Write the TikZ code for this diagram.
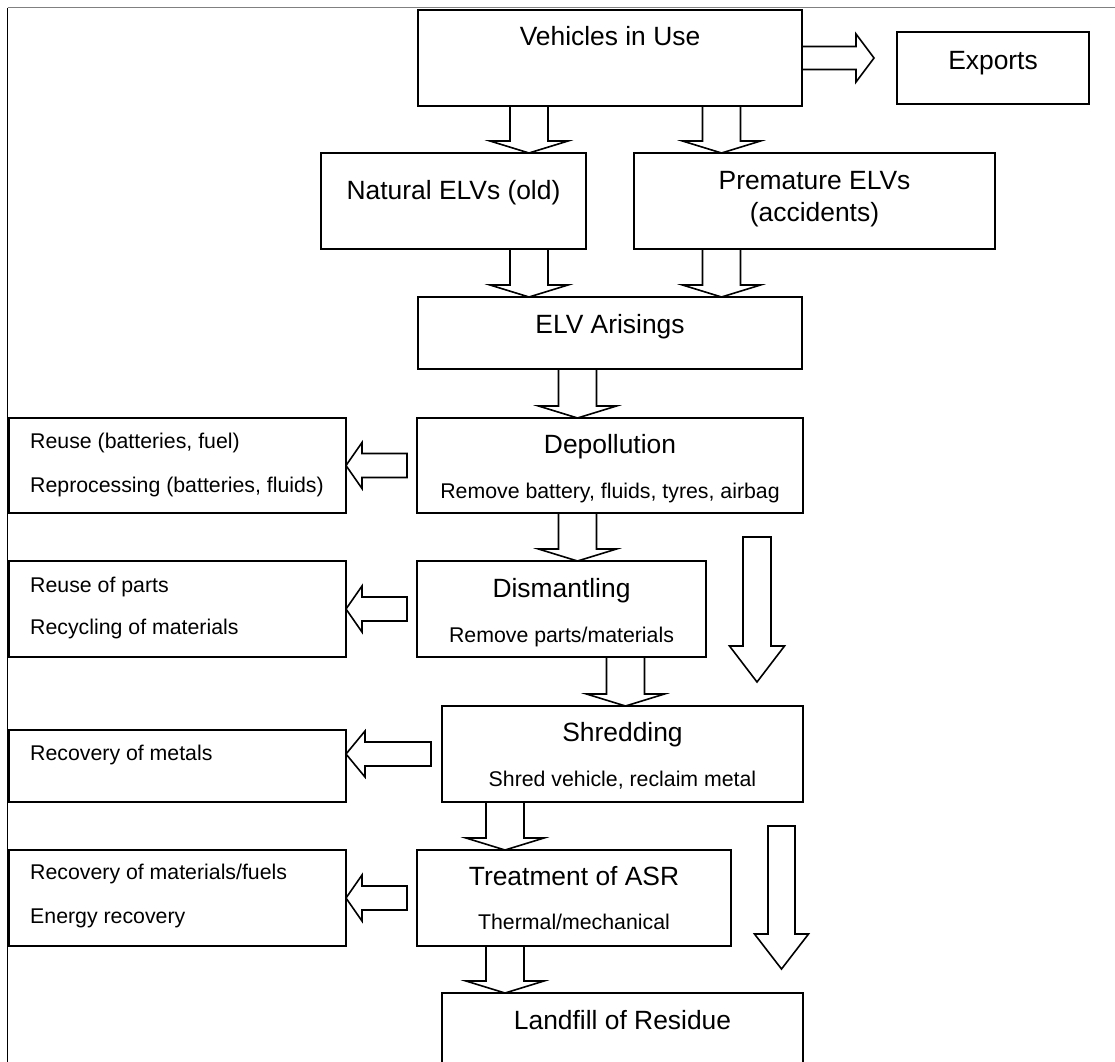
\documentclass[tikz,border=0pt]{standalone}
\usepackage{fontspec}
\setmainfont{Liberation Sans}
\usetikzlibrary{calc}

% downward block arrow: #1 x-position coordinate, #2 source node, #3 target node
\newcommand\dnblk[3]{%
  \draw[blk] ($(#2.south -| #1)+(-19,0)$) -- ($(#3.north -| #1)+(-19,-12)$)
    -- ($(#3.north -| #1)+(-39,-12)$) -- (#3.north -| #1)
    -- ($(#3.north -| #1)+(39,-12)$) -- ($(#3.north -| #1)+(19,-12)$)
    -- ($(#2.south -| #1)+(19,0)$);}

% leftward block arrow: #1 source, #2 target, #3 gap before source, #4 head length
\newcommand\lfblk[4]{%
  \draw[blk] ($(#1.west)+(-#3,-12)$) -- ($(#1.west -| #2.east)+(#4,-12)$)
    -- ($(#1.west -| #2.east)+(#4,-23)$) -- (#1.west -| #2.east)
    -- ($(#1.west -| #2.east)+(#4,23)$) -- ($(#1.west -| #2.east)+(#4,12)$)
    -- ($(#1.west)+(-#3,12)$) -- cycle;}

\begin{document}
\begin{tikzpicture}[x=1pt,y=-1pt,
  box/.style={draw, line width=1.6pt, inner sep=0pt, outer sep=0pt},
  blk/.style={draw, line width=1.6pt, line join=miter},
  ttl/.style={anchor=base, inner sep=0pt, font=\fontsize{26.4}{31}\selectfont},
  sub/.style={anchor=base, inner sep=0pt, font=\fontsize{21.3}{26}\selectfont},
  side/.style={anchor=base west, inner sep=0pt, font=\fontsize{21.3}{26}\selectfont},
]
\useasboundingbox (0,0) rectangle (1115,1061);
\clip (0,0) rectangle (1115,1061);
\fill[white] (0,0) rectangle (1115,1061);

% page frame
\draw[line width=1.5pt, gray] (7.5,7.5) -- (1120,7.5);
\draw[line width=1.5pt, black] (7.5,7.5) -- (7.5,1070);

% main chain boxes
\node[box, minimum width=384pt, minimum height=96pt] (veh) at (610,58) {};
\node[box, minimum width=192pt, minimum height=72pt] (exp) at (993,68) {};
\node[box, minimum width=265pt, minimum height=96pt] (nat) at (453.5,201) {};
\node[box, minimum width=361pt, minimum height=96pt] (pre) at (814.5,201) {};
\node[box, minimum width=384pt, minimum height=72pt] (ari) at (610,333) {};
\node[box, minimum width=386pt, minimum height=95pt] (dep) at (610,465.5) {};
\node[box, minimum width=289pt, minimum height=96pt] (dis) at (561.5,609) {};
\node[box, minimum width=361pt, minimum height=96pt] (shr) at (622.5,754) {};
\node[box, minimum width=314pt, minimum height=96pt] (trt) at (574,898) {};
\node[box, minimum width=361pt, minimum height=96pt] (lnd) at (622.5,1041) {};

% outcome boxes on the left
\node[box, minimum width=337pt, minimum height=95pt] (reu) at (177.5,465.5) {};
\node[box, minimum width=337pt, minimum height=96pt] (rpa) at (177.5,609) {};
\node[box, minimum width=337pt, minimum height=72pt] (rme) at (177.5,766) {};
\node[box, minimum width=337pt, minimum height=96pt] (rmf) at (177.5,898) {};

% labels
\node[ttl] (tveh) at (610,45) {Vehicles in Use};
\node[ttl] (texp) at (993,69) {Exports};
\node[ttl] (tnat) at (453.5,199) {Natural ELVs (old)};
\node[ttl] (tpre) at (814.5,189) {Premature ELVs};
\node[ttl] (tpre2) at (814.5,221) {(accidents)};
\node[ttl] (tari) at (610,333) {ELV Arisings};
\node[ttl] (tdep) at (610,453) {Depollution};
\node[sub] (sdep) at (610,498) {Remove battery, fluids, tyres, airbag};
\node[ttl] (tdis) at (561.5,597) {Dismantling};
\node[sub] (sdis) at (561.5,642) {Remove parts/materials};
\node[ttl] (tshr) at (622.5,741) {Shredding};
\node[sub] (sshr) at (622.5,786) {Shred vehicle, reclaim metal};
\node[ttl] (ttrt) at (574,885) {Treatment of ASR};
\node[sub] (strt) at (574,929) {Thermal/mechanical};
\node[ttl] (tlnd) at (622.5,1029) {Landfill of Residue};

\node[side] (s1) at (30,448) {Reuse (batteries, fuel)};
\node[side] (s2) at (30,492) {Reprocessing (batteries, fluids)};
\node[side] (s3) at (30,592) {Reuse of parts};
\node[side] (s4) at (30,634) {Recycling of materials};
\node[side] (s5) at (30,760) {Recovery of metals};
\node[side] (s6) at (30,879) {Recovery of materials/fuels};
\node[side] (s7) at (30,923) {Energy recovery};

% x positions of the vertical flow arrows
\coordinate (xa) at (529,0);
\coordinate (xb) at (721.5,0);
\coordinate (xc) at (577.5,0);
\coordinate (xd) at (625.5,0);
\coordinate (xe) at (505,0);

\dnblk{xa}{veh}{nat}
\dnblk{xb}{veh}{pre}
\dnblk{xa}{nat}{ari}
\dnblk{xb}{pre}{ari}
\dnblk{xc}{ari}{dep}
\dnblk{xc}{dep}{dis}
\dnblk{xd}{dis}{shr}
\dnblk{xe}{shr}{trt}
\dnblk{xe}{trt}{lnd}

% side outputs
\lfblk{dep}{reu}{10}{16}
\lfblk{dis}{rpa}{10}{16}
\lfblk{shr}{rme}{11}{19}
\lfblk{trt}{rmf}{10}{16}

% exports arrow
\draw[blk] ($(veh.east)+(0,-11.5)$) -- ($(veh.east -| exp.west)+(-41,-11.5)$)
  -- ($(veh.east -| exp.west)+(-41,-24)$) -- ($(veh.east -| exp.west)+(-23,0)$)
  -- ($(veh.east -| exp.west)+(-41,24)$) -- ($(veh.east -| exp.west)+(-41,11.5)$)
  -- ($(veh.east)+(0,11.5)$);

% bypass arrows on the right
\coordinate (b1top) at (757,537);
\coordinate (b1tip) at (757,682);
\draw[blk] ($(b1top)+(-14,0)$) -- ($(b1tip)+(-14,-36)$) -- ($(b1tip)+(-27.5,-36)$)
  -- (b1tip) -- ($(b1tip)+(27.5,-36)$) -- ($(b1tip)+(14,-36)$) -- ($(b1top)+(14,0)$) -- cycle;
\coordinate (b2top) at (781.5,826);
\coordinate (b2tip) at (781.5,969);
\draw[blk] ($(b2top)+(-13.5,0)$) -- ($(b2tip)+(-13.5,-35)$) -- ($(b2tip)+(-27,-35)$)
  -- (b2tip) -- ($(b2tip)+(27,-35)$) -- ($(b2tip)+(13.5,-35)$) -- ($(b2top)+(13.5,0)$) -- cycle;
\end{tikzpicture}
\end{document}
